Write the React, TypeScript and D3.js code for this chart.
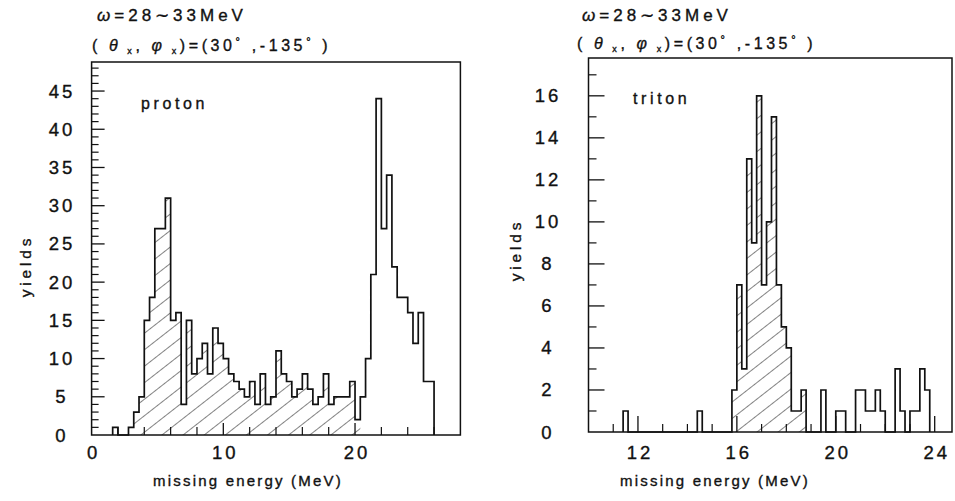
import React from "react";
import * as d3 from "d3";

// ---------- data ----------
// proton panel: counts per 0.4 MeV bin, first bin starts at 1.6 MeV
const protonStart = 1.6;
const protonBin = 0.4;
const protonCounts = [
  1, 0, 0, 1, 3, 5, 15, 18, 27, 27, 31, 15, 16, 4, 15, 8, 10, 12, 8, 14, 12,
  10, 8, 7, 6, 5, 7, 4, 8, 4, 5, 11, 8, 7, 5, 6, 8, 6, 4, 5, 8, 4, 5, 5, 5, 7,
  2, 5, 10, 21, 44, 27, 34, 22, 18, 18, 16, 12, 16, 7, 7,
];
const protonHatchRange = [2.8, 20.4];

// triton panel: counts per 0.2 MeV bin, first bin starts at 11.4 MeV
const tritonStart = 11.4;
const tritonBin = 0.2;
const tritonCounts = [
  1, 0, 0, 0, 0, 0, 0, 0, 0, 0, 0, 0, 0, 0, 0, 1, 0, 0, 0, 0, 0, 0, 2, 7, 3,
  13, 9, 16, 7, 10, 15, 7, 5, 4, 1, 1, 2, 0, 0, 0, 2, 0, 0, 1, 1, 0, 0, 2, 2,
  1, 1, 2, 1, 0, 0, 3, 1, 0, 1, 1, 3, 2,
];
const tritonHatchRange = [15.8, 18.8];

const protonXLabels = [0, 10, 20];
const protonYLabels = [0, 5, 10, 15, 20, 25, 30, 35, 40, 45];
const tritonXLabels = [12, 16, 20, 24];
const tritonYLabels = [0, 2, 4, 6, 8, 10, 12, 14, 16];

const FONT = "'Liberation Sans', Arial, Helvetica, sans-serif";
const INK = "#111";

type Bin = { x0: number; x1: number; v: number };

function makeBins(start: number, width: number, counts: number[]): Bin[] {
  return counts.map((v, i) => ({
    x0: +(start + i * width).toFixed(4),
    x1: +(start + (i + 1) * width).toFixed(4),
    v,
  }));
}

function stepPath(bins: Bin[], xs: d3.ScaleLinear<number, number>, ys: d3.ScaleLinear<number, number>, close: boolean) {
  if (!bins.length) return "";
  const pts: [number, number][] = [];
  pts.push([bins[0].x0, 0]);
  bins.forEach((b) => pts.push([b.x0, b.v]));
  const last = bins[bins.length - 1];
  pts.push([last.x1, last.v]);
  pts.push([last.x1, 0]);
  const line = d3
    .line<[number, number]>()
    .x((d) => xs(d[0]))
    .y((d) => ys(d[1]))
    .curve(d3.curveStepAfter);
  const p = line(pts) || "";
  return close ? p + "Z" : p;
}

type PanelProps = {
  xs: d3.ScaleLinear<number, number>;
  ys: d3.ScaleLinear<number, number>;
  bins: Bin[];
  hatch: number[];
  xMinor: number[];
  xMajor: number[];
  xMajorLen: number;
  xMinorLen: number;
  yMinor: number[];
  yMajor: number[];
  yMajorLen: number;
  yMinorLen: number;
  xLabels: number[];
  yLabels: number[];
  yLabelX: number;
  name: string;
  nameX: number;
  nameY: number;
  yTitleX: number;
  yTitleY: number;
  xTitleX: number;
  titleX: number;
  title2Y: number;
};

const textStroke = { stroke: INK, strokeWidth: 0.35 };

function Panel(p: PanelProps) {
  const [x0, x1] = p.xs.range();
  const [y0, y1] = p.ys.range();
  const hatchedBins = p.bins.filter((b) => b.x0 >= p.hatch[0] - 1e-6 && b.x1 <= p.hatch[1] + 1e-6);
  return (
    <g>
      {/* titles */}
      <text x={p.titleX} y={21} fontFamily={FONT} fontSize={17} letterSpacing={4} fill={INK} {...textStroke}>
        <tspan fontStyle="italic">ω</tspan>
        <tspan>=28∼33MeV</tspan>
      </text>
      <text x={p.titleX - 5} y={p.title2Y} fontFamily={FONT} fontSize={16} letterSpacing={3.6} fill={INK} {...textStroke}>
        <tspan>(</tspan>
        <tspan fontStyle="italic"> θ</tspan>
        <tspan fontSize={9} dy={3}> x</tspan>
        <tspan dy={-3}>,</tspan>
        <tspan fontStyle="italic"> φ</tspan>
        <tspan fontSize={9} dy={3}> x</tspan>
        <tspan dy={-3}>)=(30</tspan>
        <tspan fontSize={11} dy={-6}>°</tspan>
        <tspan dy={6}> ,-135</tspan>
        <tspan fontSize={11} dy={-6}>°</tspan>
        <tspan dy={6}>  )</tspan>
      </text>

      {/* hatched area */}
      <path d={stepPath(hatchedBins, p.xs, p.ys, true)} fill="url(#hatch)" stroke="none" />
      {/* histogram outline */}
      <path d={stepPath(p.bins, p.xs, p.ys, false)} fill="none" stroke={INK} strokeWidth={1.7} strokeLinejoin="miter" />

      {/* frame */}
      <rect x={x0} y={y1} width={x1 - x0} height={y0 - y1} fill="none" stroke={INK} strokeWidth={1.5} />

      {/* y ticks */}
      {p.yMinor.map((t) => (
        <line key={"ym" + t} x1={x0} x2={x0 + p.yMinorLen} y1={p.ys(t)} y2={p.ys(t)} stroke={INK} strokeWidth={1.2} />
      ))}
      {p.yMajor.map((t) => (
        <line key={"yM" + t} x1={x0} x2={x0 + p.yMajorLen} y1={p.ys(t)} y2={p.ys(t)} stroke={INK} strokeWidth={1.3} />
      ))}
      {/* x ticks */}
      {p.xMinor.map((t) => (
        <line key={"xm" + t} x1={p.xs(t)} x2={p.xs(t)} y1={y0} y2={y0 - p.xMinorLen} stroke={INK} strokeWidth={1.2} />
      ))}
      {p.xMajor.map((t) => (
        <line key={"xM" + t} x1={p.xs(t)} x2={p.xs(t)} y1={y0} y2={y0 - p.xMajorLen} stroke={INK} strokeWidth={1.3} />
      ))}

      {/* tick labels */}
      {p.yLabels.map((t) => (
        <text key={"yl" + t} x={p.yLabelX} y={p.ys(t) + 6.5} textAnchor="middle" fontFamily={FONT} fontSize={18.5} letterSpacing={3} fill={INK} {...textStroke}>
          {t}
        </text>
      ))}
      {p.xLabels.map((t) => (
        <text key={"xl" + t} x={p.xs(t) + 2} y={459} textAnchor="middle" fontFamily={FONT} fontSize={18.5} letterSpacing={3} fill={INK} {...textStroke}>
          {t}
        </text>
      ))}

      {/* axis titles */}
      <text x={p.xTitleX} y={486} textAnchor="middle" fontFamily={FONT} fontSize={15} letterSpacing={2.2} fill={INK} {...textStroke}>
        missing energy (MeV)
      </text>
      <text
        transform={`translate(${p.yTitleX},${p.yTitleY}) rotate(-90)`}
        textAnchor="middle"
        fontFamily={FONT}
        fontSize={15.5}
        letterSpacing={3.8}
        fill={INK}
        {...textStroke}
      >
        yields
      </text>
      <text x={p.nameX} y={p.nameY} fontFamily={FONT} fontSize={16} letterSpacing={3.6} fill={INK} {...textStroke}>
        {p.name}
      </text>
    </g>
  );
}

const range = (a: number, b: number, s: number) => d3.range(a, b + s / 2, s);

export default function App() {
  const pxs = d3.scaleLinear().domain([0, 28]).range([91.6, 460.4]);
  const pys = d3.scaleLinear().domain([0, 48.8]).range([435, 62]);
  const txs = d3.scaleLinear().domain([10, 24.7]).range([588.5, 952]);
  const tys = d3.scaleLinear().domain([0, 17.8]).range([432, 58]);

  const pBins = makeBins(protonStart, protonBin, protonCounts);
  const tBins = makeBins(tritonStart, tritonBin, tritonCounts);

  return (
    <svg
      width={955}
      height={501}
      viewBox="0 0 955 501"
      style={{ position: "absolute", left: 0, top: 0, background: "#fff" }}
    >
      <defs>
        <pattern id="hatch" patternUnits="userSpaceOnUse" width={13} height={13} patternTransform="rotate(52)">
          <line x1={0} y1={0} x2={0} y2={13} stroke="#1a1a1a" strokeWidth={1.1} />
        </pattern>
      </defs>
      <rect x={0} y={0} width={955} height={501} fill="#fff" />
      <Panel
        xs={pxs}
        ys={pys}
        bins={pBins}
        hatch={protonHatchRange}
        xMinor={range(2, 26, 2).filter((t) => t % 10 !== 0)}
        xMajor={[10, 20]}
        xMajorLen={12}
        xMinorLen={8}
        yMinor={range(1, 48, 1).filter((t) => t % 5 !== 0)}
        yMajor={range(5, 45, 5)}
        yMajorLen={13}
        yMinorLen={7}
        xLabels={protonXLabels}
        yLabels={protonYLabels}
        yLabelX={62}
        name="proton"
        nameX={141}
        nameY={109}
        yTitleX={31}
        yTitleY={266}
        xTitleX={248}
        titleX={97}
        title2Y={51}
      />
      <Panel
        xs={txs}
        ys={tys}
        bins={tBins}
        hatch={tritonHatchRange}
        xMinor={range(11, 24, 1).filter((t) => t % 4 !== 0)}
        xMajor={[12, 16, 20, 24]}
        xMajorLen={16}
        xMinorLen={8}
        yMinor={range(1, 17, 2)}
        yMajor={range(2, 16, 2)}
        yMajorLen={16}
        yMinorLen={8}
        xLabels={tritonXLabels}
        yLabels={tritonYLabels}
        yLabelX={548}
        name="triton"
        nameX={633}
        nameY={104}
        yTitleX={521}
        yTitleY={250}
        xTitleX={715}
        titleX={582}
        title2Y={49}
      />
    </svg>
  );
}
